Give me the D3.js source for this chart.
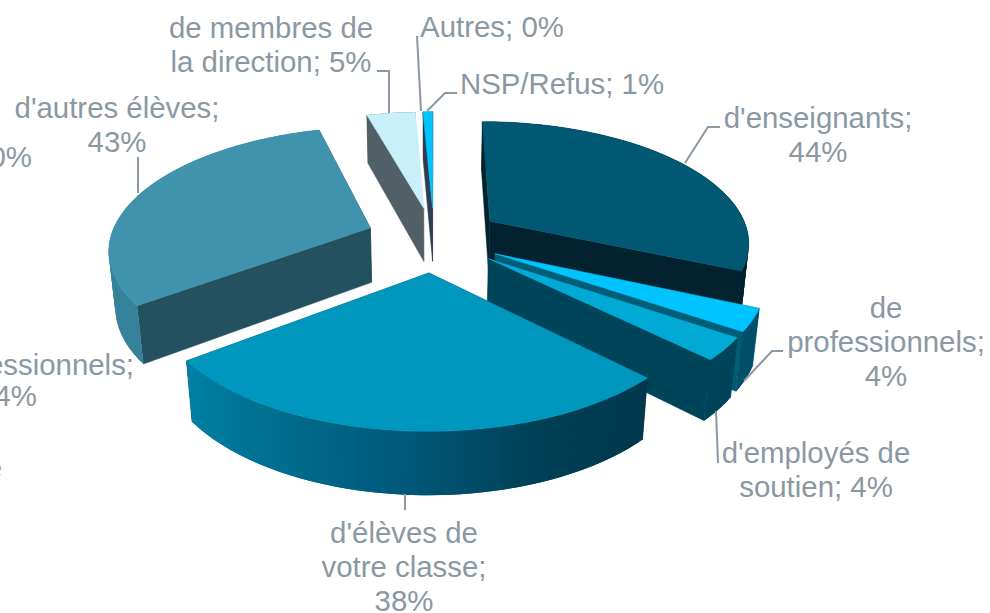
<!DOCTYPE html>
<html>
<head>
<meta charset="utf-8">
<script src="https://cdn.jsdelivr.net/npm/d3@7"></script>
<style>
  html, body { margin: 0; padding: 0; background: #fff; overflow: hidden; }
  text { font-family: "Liberation Sans", Arial, sans-serif; font-size: 29.4px; fill: #8b98a3; }
</style>
</head>
<body>
<script>
const categories = ["d'enseignants", "de professionnels", "d'employés de soutien", "d'élèves de votre classe", "d'autres élèves", "de membres de la direction", "Autres", "NSP/Refus"]
const values = [44, 4, 4, 38, 43, 5, 0, 1]

// how far each slice is pulled out of the pie
const explode = [0.262, 0.264, 0.264, 0.278, 0.262, 0.26, 0.26, 0.26]

const topColors = ["#005873", "#00c4ff", "#00aad4", "#0097bf", "#4093ad", "#c9effa", "#ffffff", "#00c4ff"]
const startWallColors = ["#01222e", "#005d78", "#004459", "#00384d", "#235160", "#515f66", "#ffffff", "#2f3d50"]
const endWallColors = ["#01222e", "#005d78", "#004459", "#00384d", "#235160", "#e6ecee", "#ffffff", "#2f3d50"]
const outerColors = [
    ["#01222e", "#01222e"],
    ["#00506a", "#00506a"],
    ["#004459", "#004459"],
    ["#00384c", "#003f55", "#00587a", "#006f8f", "#0081a6"],
    ["#37829a", "#37829a"],
    ["#515f66", "#515f66"],
    ["#ffffff", "#ffffff"],
    ["#2f3d50", "#2f3d50"]
]

// back slices first, the front one last
const drawOrder = [5, 6, 7, 4, 0, 1, 2, 3]

const labelLines = [
    ["d'enseignants;", "44%"],
    ["de", "professionnels;", "4%"],
    ["d'employés de", "soutien; 4%"],
    ["d'élèves de", "votre classe;", "38%"],
    ["d'autres élèves;", "43%"],
    ["de membres de", "la direction; 5%"],
    ["Autres; 0%"],
    ["NSP/Refus; 1%"]
]
const labelX = [818, 886, 816, 404, 117, 271, 492, 562]
const labelY = [128, 318, 463, 543, 118, 38, 37, 94]
const leaders = [
    [[720, 127], [708, 127], [685, 163]],
    [[783, 351], [772, 351], [744, 381]],
    [[718, 463], [716, 411]],
    [[405, 494], [405, 510]],
    [[138, 157], [138, 193]],
    [[377, 71], [389, 71], [389, 113]],
    [[417, 36], [421, 111]],
    [[457, 93], [445, 93], [427, 111]]
]

// labels of the chart that run off the left edge of the picture
const cutLabels = [
    ["d'autres; 0%", 32, 167],
    ["de professionnels;", 134, 375],
    ["4%", 37, 406],
    ["autre", 2, 478]
]

const w = 990
const h = 613

// camera: p is the depth perspective, q how much the bottom of the pie shrinks
const p = 0.16
const q = 0.02
const pieHeight = 56

const x = d3.scaleLinear().domain([-1, 1]).range([434 - 260, 434 + 260])
const y = d3.scaleLinear().domain([-1, 1]).range([238 - 120.4, 238 + 120.4])

function project(wx, wy, down) {
    const depth = 1 - p * wy + q * down
    return [x(wx / depth), y((wy + down * pieHeight / 120.4) / depth)]
}

const svg = d3.select('body')
    .append('svg')
    .attr('width', w)
    .attr('height', h)
    .style('display', 'block')

const pie = d3.pie().sort(null).value(d => d)
const arcs = pie(values)
const line = d3.line()

function polygon(g, points, color, strokeWidth) {
    g.append('path')
        .attr('d', line(points) + 'Z')
        .attr('fill', color)
        .attr('stroke', strokeWidth ? color : 'none')
        .attr('stroke-width', strokeWidth)
}

drawOrder.forEach(i => {
    const a = arcs[i]
    if (a.endAngle - a.startAngle === 0) return

    const mid = (a.startAngle + a.endAngle) / 2
    const ox = explode[i] * Math.sin(mid)
    const oy = -explode[i] * Math.cos(mid)

    const steps = Math.max(2, Math.ceil((a.endAngle - a.startAngle) / 0.02))
    const angles = d3.range(steps + 1).map(s => a.startAngle + (a.endAngle - a.startAngle) * s / steps)

    const rim = (t, down) => project(ox + Math.sin(t), oy - Math.cos(t), down)
    const apex = down => project(ox, oy, down)

    const g = svg.append('g').attr('class', 'slice').attr('data-name', categories[i])

    // the two cut walls
    polygon(g, [apex(0), rim(a.endAngle, 0), rim(a.endAngle, 1), apex(1)], endWallColors[i], 0.5)
    polygon(g, [apex(0), rim(a.startAngle, 0), rim(a.startAngle, 1), apex(1)], startWallColors[i], 0.5)

    // outer wall in strips, each one runs under the next so no seams show
    const shade = d3.scaleLinear()
        .domain(d3.range(outerColors[i].length).map(k => a.startAngle + (a.endAngle - a.startAngle) * k / (outerColors[i].length - 1)))
        .range(outerColors[i])
    angles.slice(0, -1).forEach((t0, k) => {
        const t1 = angles[Math.min(k + 2, steps)]
        polygon(g, [rim(t0, 0), rim(t1, 0), rim(t1, 1), rim(t0, 1)], shade(t0), 0)
    })

    // top face
    polygon(g, [apex(0)].concat(angles.map(t => rim(t, 0))), topColors[i], 0.5)
})

const leaderGroup = svg.append('g')
leaders.forEach(pts => {
    leaderGroup.append('path')
        .attr('d', line(pts))
        .attr('fill', 'none')
        .attr('stroke', '#8b98a3')
        .attr('stroke-width', 2)
})

labelLines.forEach((lines, i) => {
    lines.forEach((t, k) => {
        svg.append('text')
            .attr('x', labelX[i])
            .attr('y', labelY[i] + k * 34)
            .attr('text-anchor', 'middle')
            .text(t)
    })
})

cutLabels.forEach(d => {
    svg.append('text')
        .attr('x', d[1])
        .attr('y', d[2])
        .attr('text-anchor', 'end')
        .text(d[0])
})
</script>
</body>
</html>
